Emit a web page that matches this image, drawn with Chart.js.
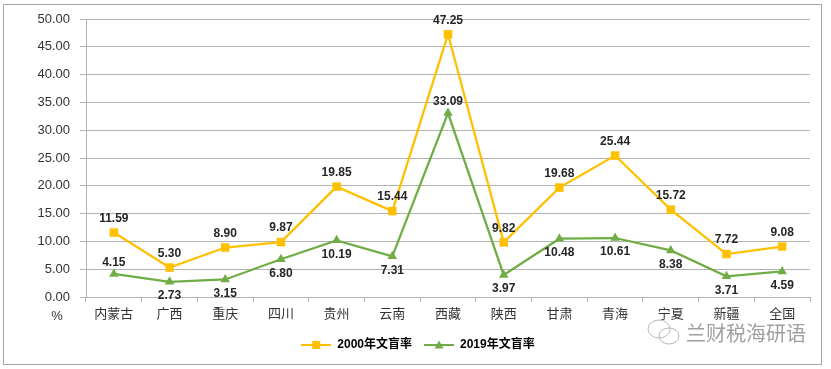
<!DOCTYPE html>
<html>
<head>
<meta charset="utf-8">
<script src="https://cdn.jsdelivr.net/npm/chart.js@4.4.1/dist/chart.umd.min.js"></script>
<style>
  html, body { margin: 0; padding: 0; background: #fff; }
  #wrap { width: 831px; height: 369px; }
</style>
</head>
<body>
<div id="wrap"><canvas id="chart" width="831" height="369"></canvas></div>
<script>
'use strict';

const provinces = ['内蒙古', '广西', '重庆', '四川', '贵州', '云南', '西藏', '陕西', '甘肃', '青海', '宁夏', '新疆', '全国'];
const rate2000 = [11.59, 5.30, 8.90, 9.87, 19.85, 15.44, 47.25, 9.82, 19.68, 25.44, 15.72, 7.72, 9.08];
const rate2019 = [4.15, 2.73, 3.15, 6.80, 10.19, 7.31, 33.09, 3.97, 10.48, 10.61, 8.38, 3.71, 4.59];
// where each value label sits relative to its point
const place2000 = ['up', 'up', 'up', 'up', 'up', 'up', 'up', 'up', 'up', 'up', 'up', 'up', 'up'];
const place2019 = ['up', 'down', 'down', 'down', 'down', 'down', 'up', 'down', 'down', 'down', 'down', 'down', 'down'];

const FONT = "'Liberation Sans', 'Noto Sans CJK SC', sans-serif";
const ORANGE = '#FFC000';
const GREEN = '#70AD47';
const GRID = '#b3b3b3';

// legend swatch: line with the marker in the middle
function swatch(color, shape) {
  const c = document.createElement('canvas');
  c.width = 30; c.height = 12;
  const g = c.getContext('2d');
  g.strokeStyle = color; g.lineWidth = 2;
  g.beginPath(); g.moveTo(0, 6); g.lineTo(30, 6); g.stroke();
  g.fillStyle = color;
  if (shape === 'rect') {
    g.fillRect(11, 2, 8, 8);
  } else {
    g.beginPath(); g.moveTo(15, 1.5); g.lineTo(19.5, 9.5); g.lineTo(10.5, 9.5); g.closePath(); g.fill();
  }
  return c;
}

const frame = {
  id: 'frame',
  beforeDraw(chart) {
    const ctx = chart.ctx;
    ctx.save();
    ctx.fillStyle = '#fff';
    ctx.fillRect(0, 0, chart.width, chart.height);
    ctx.strokeStyle = '#a6a6a6';
    ctx.lineWidth = 1;
    ctx.strokeRect(3.5, 4.5, 818, 360);
    ctx.restore();
  },
  afterDraw(chart) {
    const ctx = chart.ctx;
    const area = chart.chartArea;
    ctx.save();
    // unit label
    ctx.fillStyle = '#333';
    ctx.font = '13px ' + FONT;
    ctx.textAlign = 'center';
    ctx.textBaseline = 'middle';
    ctx.fillText('%', area.left - 29, 316);
    // watermark
    ctx.strokeStyle = '#b8b8b8';
    ctx.lineWidth = 1;
    ctx.beginPath(); ctx.ellipse(659, 329, 11, 9, 0, 0, Math.PI * 2); ctx.stroke();
    ctx.beginPath(); ctx.ellipse(669, 336, 10, 8, 0, 0, Math.PI * 2); ctx.stroke();
    ctx.fillStyle = '#a0a0a0';
    ctx.font = '20px ' + FONT;
    ctx.textAlign = 'left';
    ctx.fillText('兰财税海研语', 686, 335);
    ctx.restore();
  }
};

const valueLabels = {
  id: 'valueLabels',
  afterDatasetsDraw(chart) {
    const ctx = chart.ctx;
    ctx.save();
    ctx.font = 'bold 12px ' + FONT;
    ctx.fillStyle = '#262626';
    ctx.textAlign = 'center';
    ctx.textBaseline = 'middle';
    const places = [place2000, place2019];
    chart.data.datasets.forEach((ds, di) => {
      const meta = chart.getDatasetMeta(di);
      meta.data.forEach((pt, i) => {
        const up = places[di][i] === 'up';
        const dy = up ? (di === 0 ? -14 : -11) : 14;
        ctx.fillText(ds.data[i].toFixed(2), pt.x, pt.y + dy);
      });
    });
    ctx.restore();
  }
};

new Chart(document.getElementById('chart'), {
  type: 'line',
  data: {
    labels: provinces,
    datasets: [{
      label: '2000年文盲率',
      data: rate2000,
      borderColor: ORANGE,
      backgroundColor: ORANGE,
      borderWidth: 2.25,
      pointStyle: 'rect',
      pointRadius: 6,
      pointBorderWidth: 0,
      tension: 0
    }, {
      label: '2019年文盲率',
      data: rate2019,
      borderColor: GREEN,
      backgroundColor: GREEN,
      borderWidth: 2.25,
      pointStyle: 'triangle',
      pointRadius: 5.5,
      pointBorderWidth: 0,
      tension: 0
    }]
  },
  options: {
    responsive: false,
    animation: false,
    layout: { padding: { left: 26, right: 21, top: 19, bottom: 8 } },
    plugins: {
      tooltip: { enabled: false },
      legend: {
        position: 'bottom',
        labels: {
          usePointStyle: true,
          pointStyleWidth: 30,
          padding: 12,
          color: '#333',
          font: { family: FONT, size: 12, weight: 'bold' },
          generateLabels(chart) {
            return [
              { text: '2000年文盲率', pointStyle: swatch(ORANGE, 'rect'), fillStyle: ORANGE, strokeStyle: ORANGE, lineWidth: 0, datasetIndex: 0 },
              { text: '2019年文盲率', pointStyle: swatch(GREEN, 'tri'), fillStyle: GREEN, strokeStyle: GREEN, lineWidth: 0, datasetIndex: 1 }
            ];
          }
        }
      }
    },
    scales: {
      x: {
        offset: true,
        grid: { offset: true, drawOnChartArea: false, drawTicks: true, tickLength: 5, color: GRID },
        border: { color: GRID },
        ticks: { color: '#333', padding: 5, font: { family: FONT, size: 13 } },
        afterFit(scale) { scale.height = 30; }
      },
      y: {
        min: 0,
        max: 50,
        ticks: {
          stepSize: 5,
          padding: 10,
          color: '#333',
          font: { family: FONT, size: 13 },
          callback: v => v.toFixed(2)
        },
        grid: { color: GRID, tickLength: 6 },
        border: { color: GRID },
        afterFit(scale) { scale.width = 60; }
      }
    }
  },
  plugins: [frame, valueLabels]
});
</script>
</body>
</html>
